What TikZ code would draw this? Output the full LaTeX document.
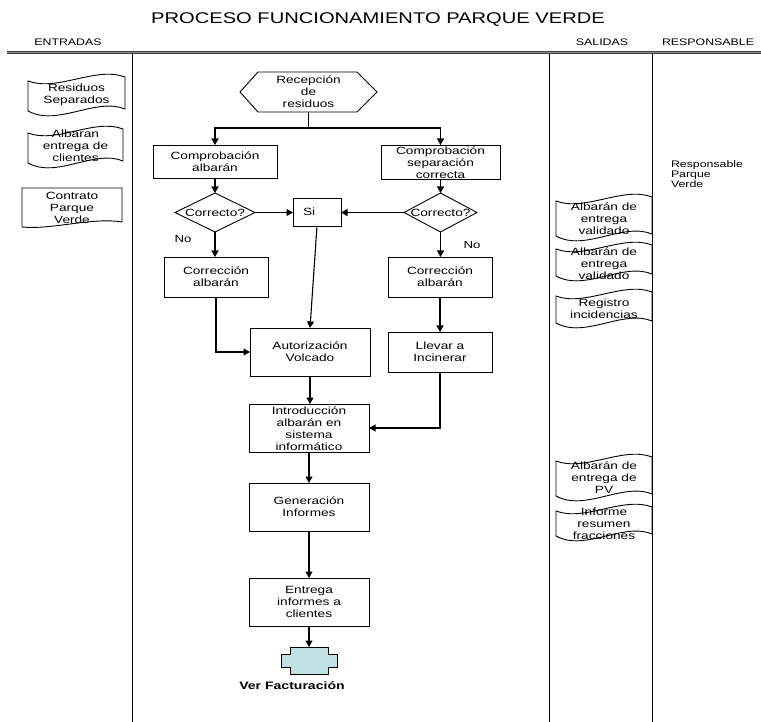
\documentclass[tikz,border=0pt]{standalone}
\usepackage{fontspec}
\setmainfont{Liberation Sans}[FakeStretch=1.3]
\usetikzlibrary{arrows.meta,calc}
\definecolor{vfcyan}{HTML}{BFE1E4}
\newcommand\boxfont{\fontsize{10.5}{12}\selectfont}
% tape-like document: name, cx, cy, w, h, text y, text
\newcommand\tapedoc[7]{%
  \node[doctext] (#1) at (#2,#6) {#7};
  \draw[shapeline] ({#2-#4/2},{#3-#5/2+6})
    .. controls ({#2-#4/2+0.3*#4},{#3-#5/2+17}) and ({#2-#4/2+0.7*#4},{#3-#5/2-9}) ..
    ({#2+#4/2},{#3-#5/2+2})
    -- ({#2+#4/2},{#3+#5/2-6})
    .. controls ({#2-#4/2+0.7*#4},{#3+#5/2-18}) and ({#2-#4/2+0.3*#4},{#3+#5/2+12}) ..
    ({#2-#4/2},{#3+#5/2-4}) -- cycle;}
\begin{document}
\begin{tikzpicture}[x=1pt,y=-1pt,
  every node/.style={inner sep=0pt, outer sep=0pt},
  shapeline/.style={line width=0.9pt, draw=black},
  proc/.style={draw, line width=0.9pt, align=center, font=\boxfont},
  plain/.style={align=center, font=\boxfont},
  doctext/.style={align=center, font=\boxfont},
  hdr/.style={font=\fontsize{9.5}{11}\selectfont},
  lbl/.style={font=\fontsize{10.2}{12}\selectfont},
  conn/.style={line width=1.1pt},
  arr/.style={-{Triangle[length=6.5pt,width=7pt]}},
  lane/.style={line width=0.9pt},
  topline/.style={double=black!45, double distance=0.9pt, line width=0.9pt, draw=black!75}]
\useasboundingbox (0,0) rectangle (761,722);

% title and headers
\node[font=\fontsize{15.5}{18}\selectfont] (title) at (378,19.5) {PROCESO FUNCIONAMIENTO PARQUE VERDE};
\node[hdr] (hent) at (68,42) {ENTRADAS};
\node[hdr] (hsal) at (602,42) {SALIDAS};
\node[hdr] (hres) at (708,42) {RESPONSABLE};

% lanes
\draw[topline] (7,52.5) -- (761,52.5);
\draw[lane] (132.5,53.5) -- (132.5,722);
\draw[lane] (549,54) -- (549,722);
\draw[lane] (652,54) -- (652,722);

% inputs
\tapedoc{res}{76.5}{95}{97}{40}{94.5}{Residuos\\Separados}
\tapedoc{alb}{75.5}{147}{95}{40}{146}{Albaran\\entrega de\\clientes}
\node[doctext] (con) at (72,208) {Contrato\\Parque\\Verde};
\draw[shapeline] (22,188) -- (122,188) -- (122,222)
  .. controls (92,217) and (52,230) .. (22,227) -- cycle;

% outputs
\tapedoc{v1}{604}{217.5}{96}{45}{219}{Albarán de\\entrega\\validado}
\tapedoc{v2}{604}{261.5}{96}{37}{264}{Albarán de\\entrega\\validado}
\tapedoc{v3}{604}{308.5}{96}{37}{309}{Registro\\incidencias}
\tapedoc{pv}{604}{477.5}{96}{45}{478}{Albarán de\\entrega de\\PV}
\tapedoc{inf}{604}{522.5}{96}{35}{523.5}{Informe\\resumen\\fracciones}

% responsible
\node[align=left, font=\fontsize{9.5}{10}\selectfont, anchor=west] (rpv) at (671,174.5) {Responsable\\Parque\\Verde};

% process
\node[plain, minimum width=137, minimum height=40] (rec) at (308.5,92) {Recepción\\de\\residuos};
\draw[shapeline] (rec.west) -- ([xshift=18pt]rec.north west) -- ([xshift=-20pt]rec.north east)
  -- (rec.east) -- ([xshift=-20pt]rec.south east) -- ([xshift=18pt]rec.south west) -- cycle;

\node[proc, minimum width=124, minimum height=33] (cba) at (215,161.5) {Comprobación\\albarán};
\node[draw, line width=0.9pt, minimum width=119, minimum height=34] (csc) at (440.5,162) {};
\node[plain] (csct) at (440.5,163) {Comprobación\\separación\\correcta};

\node[plain, minimum width=80, minimum height=39] (d1) at (215,212.5) {Correcto?};
\draw[shapeline] (d1.north) -- (d1.east) -- (d1.south) -- (d1.west) -- cycle;
\node[plain, minimum width=73, minimum height=39] (d2) at (440.5,212.5) {Correcto?};
\draw[shapeline] (d2.north) -- (d2.east) -- (d2.south) -- (d2.west) -- cycle;

\node[draw, line width=0.9pt, font=\boxfont, minimum height=28, text width=28, inner xsep=10pt, align=left] (si) at (317,212) {Si};

\node[lbl] (no1) at (183,239) {No};
\node[lbl] (no2) at (472,245) {No};

\node[proc, minimum width=104, minimum height=40] (cal1) at (216,277) {Corrección\\albarán};
\node[proc, minimum width=104, minimum height=40] (cal2) at (440,277) {Corrección\\albarán};
\node[proc, minimum width=120, minimum height=48] (aut) at (310,352) {Autorización\\Volcado};
\node[proc, minimum width=104, minimum height=40] (lli) at (440,352) {Llevar a\\Incinerar};
\node[draw, line width=0.9pt, minimum width=120, minimum height=48] (intro) at (309,428) {};
\node[plain] (introt) at (309,429) {Introducción\\albarán en\\sistema\\informático};
\node[proc, minimum width=120, minimum height=48] (gen) at (309,507) {Generación\\Informes};
\node[proc, minimum width=120, minimum height=48] (ent) at (309,602) {Entrega\\informes a\\clientes};

\node[minimum width=38, minimum height=27] (vf) at (309,660.5) {};
\draw[shapeline, fill=vfcyan, shift={(vf.center)}] (-19,-13.5) -- (19,-13.5) -- (19,-6.5) -- (28,-6.5)
  -- (28,6.5) -- (19,6.5) -- (19,13.5) -- (-19,13.5) -- (-19,6.5) -- (-28,6.5) -- (-28,-6.5) -- (-19,-6.5) -- cycle;
\node[font=\bfseries\fontsize{10.8}{12}\selectfont] (vft) at (292,686) {Ver Facturación};

% connectors
\coordinate (split) at (308.5,128);
\draw[conn] (rec.south) -- (split);
\draw[conn,arr] (split) -| (cba.north);
\draw[conn,arr] (split) -| (csc.north);
\draw[conn,arr] (cba.south) -- (d1.north);
\draw[conn,arr] (csc.south) -- (d2.north);
\draw[conn,arr] (d1.east) -- (d1.east -| si.west);
\draw[conn,arr] (d2.west) -- (d2.west -| si.east);
\draw[conn,arr] (d1.south) -- (d1.south |- cal1.north);
\draw[conn,arr] (d2.south) -- (d2.south |- cal2.north);
\draw[conn,arr] (si.south) -- (aut.north);
\draw[conn,arr] (cal1.south) |- (aut.west);
\draw[conn,arr] (cal2.south) -- (lli.north);
\draw[conn,arr] (aut.south) -- (aut.south |- intro.north);
\draw[conn,arr] (lli.south) |- (intro.east);
\draw[conn,arr] (intro.south) -- (gen.north);
\draw[conn,arr] (gen.south) -- (ent.north);
\draw[conn,arr] (ent.south) -- (vf.north);
\end{tikzpicture}
\end{document}
